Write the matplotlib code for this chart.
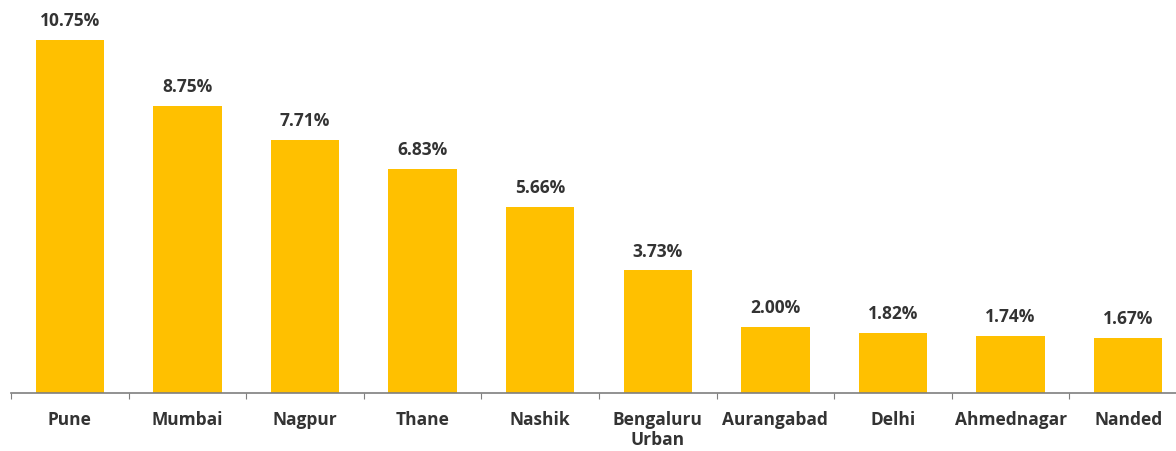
import matplotlib.pyplot as plt

cities = ["Pune", "Mumbai", "Nagpur", "Thane", "Nashik", "Bengaluru\nUrban",
          "Aurangabad", "Delhi", "Ahmednagar", "Nanded"]
shares = [10.75, 8.75, 7.71, 6.83, 5.66, 3.73, 2.00, 1.82, 1.74, 1.67]

plt.rcParams['font.family'] = ['Open Sans', 'DejaVu Sans']

fig = plt.figure(figsize=(11.76, 4.51), dpi=100)
ax = fig.add_axes([11/1176, 58/451, 1176/1176, 391/451])

x = list(range(len(cities)))
ax.bar(x, shares, width=0.58, color="#FFC000")

for i, v in enumerate(shares):
    ax.text(i, v + 0.3, f"{v:.2f}%", ha="center", va="bottom",
            fontsize=12.5, fontweight="bold", color="#333333")

ax.set_xlim(-0.5, 9.5)
ax.set_ylim(0, 11.9)
ax.set_yticks([])
for s in ["top", "right", "left"]:
    ax.spines[s].set_visible(False)
ax.spines["bottom"].set_color("#7f7f7f")
ax.spines["bottom"].set_linewidth(1.2)

ax.set_xticks([i + 0.5 for i in range(-1, 10)], minor=False)
ax.set_xticklabels([])
ax.tick_params(axis="x", which="major", length=4, color="#7f7f7f")
ax.set_xticks(x, minor=True)
ax.set_xticklabels(cities, minor=True, fontsize=12.5, fontweight="bold",
                   color="#333333", linespacing=1.15)
ax.tick_params(axis="x", which="minor", length=0, pad=13)

fig.savefig("out.png", dpi=100)
